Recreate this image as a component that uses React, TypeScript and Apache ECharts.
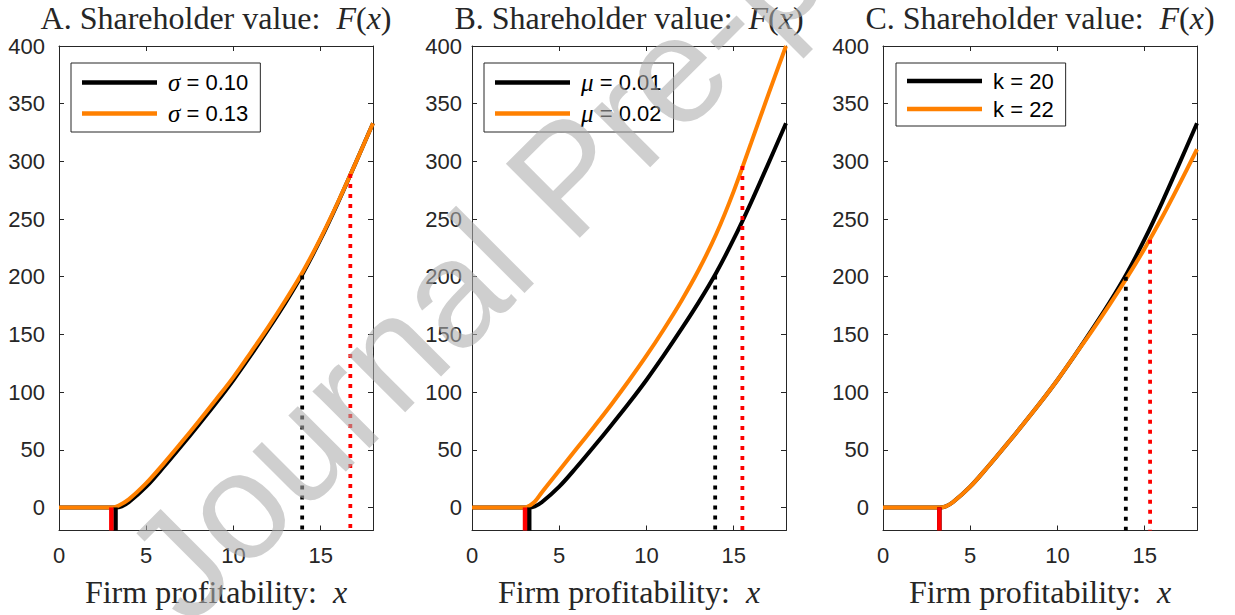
import React, { useEffect, useRef } from "react";
import * as echarts from "echarts";

// ---------- data ----------
const X_TICKS = [0, 5, 10, 15];
const Y_TICKS = [0, 50, 100, 150, 200, 250, 300, 350, 400];

const TITLES = ["A", "B", "C"];
const LEGEND_NAMES = [
  ["σ = 0.10", "σ = 0.13"],
  ["μ = 0.01", "μ = 0.02"],
  ["k = 20", "k = 22"],
];

// baseline curve (black) – same parameters in every panel
const baseX = [0, 3.24, 3.6, 4, 5, 6, 7, 8, 9, 10, 11, 12, 13, 14, 15, 16, 17, 18];
const baseF = [0, 0, 1, 4.5, 18, 35, 53, 71.5, 90.5, 110.5, 132, 154.5, 178, 203.5, 232.5, 264.5, 298.5, 333];

// panel A: sigma = 0.13
const aOrangeX = [0, 3.0, 3.4, 4, 5, 6, 7, 8, 9, 10, 11, 12, 13, 14, 15, 16, 17, 18];
const aOrangeF = [0, 0, 1.5, 7, 21, 38, 56, 74.5, 93.5, 113, 134.5, 156.5, 180, 205, 233.5, 265, 298.5, 333];

// panel B: mu = 0.02
const bOrangeX = [0, 3.04, 3.3, 3.6, 4, 5, 6, 7, 8, 9, 10, 11, 12, 13, 14, 15, 16, 17, 18];
const bOrangeF = [0, 0, 1.5, 5, 13, 32, 51, 70, 89.5, 110, 131.5, 154.5, 179, 206, 237, 274, 316, 358.5, 400];

// panel C: k = 22
const cOrangeX = [0, 3.23, 3.6, 4, 5, 6, 7, 8, 9, 10, 11, 12, 13, 14, 15, 16, 17, 18];
const cOrangeF = [0, 0, 1, 4.5, 18, 35, 53, 71.5, 90.5, 110.5, 132, 153.5, 176, 199.5, 224.5, 251.5, 280.5, 310.5];

// thresholds: [black default, red default] (solid bars from -20 to 0)
const defaultBlack = [3.24, 3.28, 3.23];
const defaultRed = [3.0, 3.04, 3.23];
// investment thresholds (dotted), x and top value
const investBlackX = [13.94, 13.94, 13.92];
const investBlackF = [201, 201, 200];
const investRedX = [16.7, 15.5, 15.31];
const investRedF = [289, 296, 232];

const Y_MIN = -20;
const Y_MAX = 400;
const X_MIN = 0;
const X_MAX = 18;

// ---------- layout ----------
const GRID_LEFT = [59, 472, 883];
const GRID_W = 314;
const GRID_TOP = 46;
const GRID_H = 484.5;
const LEGEND_LEFT = [71, 484, 896];
const YLABEL_MARGIN = [14, 10, 14];

const AX = "#262626";
const BLACK = "#000000";
const ORANGE = "#FF8000";
const RED = "#FF0000";
const SANS = "Liberation Sans";
const SERIF = "Liberation Serif";

const zip = (xs: number[], ys: number[]) => xs.map((x, i) => [x, ys[i]]);

export default function App() {
  const ref = useRef<HTMLDivElement>(null);
  useEffect(() => {
    document.body.style.margin = "0";
    if (!ref.current) return;
    const chart = echarts.init(ref.current, null, { renderer: "svg" });

    const grids: any[] = [];
    const xAxes: any[] = [];
    const yAxes: any[] = [];
    const series: any[] = [];
    const legends: any[] = [];
    const graphics: any[] = [];

    const orangeX = [aOrangeX, bOrangeX, cOrangeX];
    const orangeF = [aOrangeF, bOrangeF, cOrangeF];

    for (let p = 0; p < 3; p++) {
      grids.push({
        left: GRID_LEFT[p],
        top: GRID_TOP,
        width: GRID_W,
        height: GRID_H,
        outerBoundsMode: "none",
        containLabel: false,
      });
    }
    // bottom x axes (0..2)
    for (let p = 0; p < 3; p++) {
      xAxes.push({
        gridIndex: p,
        type: "value",
        position: "bottom",
        min: X_MIN,
        max: X_MAX,
        axisLine: { show: true, onZero: false, lineStyle: { color: AX, width: 1 } },
        axisTick: { show: true, inside: true, length: 5, customValues: X_TICKS, lineStyle: { color: AX } },
        axisLabel: {
          customValues: X_TICKS,
          fontSize: 22,
          fontFamily: SANS,
          color: AX,
          margin: 14,
        },
        splitLine: { show: false },
        name: "Firm profitability:  {i|x}",
        nameLocation: "middle",
        nameGap: 45,
        nameTextStyle: {
          fontSize: 32,
          fontFamily: SERIF,
          color: AX,
          rich: { i: { fontSize: 32, fontFamily: SERIF, fontStyle: "italic", color: AX } },
        },
      });
    }
    // top x axes (3..5)
    for (let p = 0; p < 3; p++) {
      xAxes.push({
        gridIndex: p,
        type: "value",
        position: "top",
        min: X_MIN,
        max: X_MAX,
        axisLine: { show: true, onZero: false, lineStyle: { color: AX, width: 1 } },
        axisTick: { show: true, inside: true, length: 5, customValues: X_TICKS, lineStyle: { color: AX } },
        axisLabel: { show: false, customValues: X_TICKS },
        splitLine: { show: false },
      });
    }
    // left y axes (0..2)
    for (let p = 0; p < 3; p++) {
      yAxes.push({
        gridIndex: p,
        type: "value",
        position: "left",
        min: Y_MIN,
        max: Y_MAX,
        axisLine: { show: true, onZero: false, lineStyle: { color: AX, width: 1 } },
        axisTick: { show: true, inside: true, length: 5, customValues: Y_TICKS, lineStyle: { color: AX } },
        axisLabel: {
          customValues: Y_TICKS,
          fontSize: 22,
          fontFamily: SANS,
          color: AX,
          margin: YLABEL_MARGIN[p],
        },
        splitLine: { show: false },
      });
    }
    // right y axes (3..5)
    for (let p = 0; p < 3; p++) {
      yAxes.push({
        gridIndex: p,
        type: "value",
        position: "right",
        min: Y_MIN,
        max: Y_MAX,
        axisLine: { show: true, onZero: false, lineStyle: { color: AX, width: 1 } },
        axisTick: { show: true, inside: true, length: 5, customValues: Y_TICKS, lineStyle: { color: AX } },
        axisLabel: { show: false, customValues: Y_TICKS },
        splitLine: { show: false },
      });
    }

    for (let p = 0; p < 3; p++) {
      const common = { xAxisIndex: p, yAxisIndex: p, symbol: "none", silent: true };
      // black curve
      series.push({
        ...common,
        type: "line",
        name: LEGEND_NAMES[p][0],
        data: zip(baseX, baseF),
        smooth: 0.35,
        lineStyle: { color: BLACK, width: 4 },
        itemStyle: { color: BLACK },
        z: 2,
      });
      // orange curve
      series.push({
        ...common,
        type: "line",
        name: LEGEND_NAMES[p][1],
        data: zip(orangeX[p], orangeF[p]),
        smooth: 0.35,
        lineStyle: { color: ORANGE, width: 4 },
        itemStyle: { color: ORANGE },
        z: 3,
      });
      // default threshold bars
      series.push({
        ...common,
        type: "line",
        data: [
          [defaultBlack[p], Y_MIN],
          [defaultBlack[p], 0],
        ],
        lineStyle: { color: BLACK, width: 4.5, cap: "butt" },
        z: 4,
      });
      series.push({
        ...common,
        type: "line",
        data: [
          [defaultRed[p], Y_MIN],
          [defaultRed[p], 0],
        ],
        lineStyle: { color: RED, width: 4.5, cap: "butt" },
        z: 5,
      });
      // investment thresholds (dotted)
      series.push({
        ...common,
        type: "line",
        data: [
          [investBlackX[p], investBlackF[p]],
          [investBlackX[p], Y_MIN],
        ],
        lineStyle: { color: BLACK, width: 3.8, type: [4, 6], cap: "butt" },
        z: 6,
      });
      series.push({
        ...common,
        type: "line",
        data: [
          [investRedX[p], investRedF[p]],
          [investRedX[p], Y_MIN],
        ],
        lineStyle: { color: RED, width: 3.8, type: [4, 6], cap: "butt" },
        z: 6,
      });

      legends.push({
        data: LEGEND_NAMES[p],
        left: LEGEND_LEFT[p],
        top: 63,
        orient: "vertical",
        icon: "rect",
        itemWidth: 75,
        itemHeight: 4.5,
        itemGap: 6,
        padding: [7, 12, 6, 11],
        borderColor: AX,
        borderWidth: 1,
        backgroundColor: "#ffffff",
        selectedMode: false,
        formatter: (name: string) => {
          if (name.startsWith("σ") || name.startsWith("μ")) {
            return " {i|" + name.charAt(0) + "}{t|" + name.slice(1) + "}";
          }
          return "{t| " + name + "}";
        },
        textStyle: {
          fontSize: 22,
          fontFamily: SANS,
          color: "#000",
          rich: {
            i: { fontSize: 25, fontFamily: SERIF, fontStyle: "italic", color: "#000" },
            t: { fontSize: 22, fontFamily: SANS, color: "#000" },
          },
        },
      });

      graphics.push({
        type: "text",
        x: GRID_LEFT[p] + GRID_W / 2,
        y: 18,
        silent: true,
        style: {
          text: TITLES[p] + ". Shareholder value:  {i|F}({i|x})",
          fontSize: 32,
          fontFamily: SERIF,
          fill: AX,
          align: "center",
          verticalAlign: "middle",
          rich: { i: { fontSize: 32, fontFamily: SERIF, fontStyle: "italic", fill: AX } },
        },
      });
    }

    // watermark
    graphics.push({
      type: "text",
      x: 205,
      y: 645,
      rotation: Math.PI / 4,
      silent: true,
      z: 100,
      style: {
        text: "Journal Pre-proof",
        fontSize: 152,
        fontFamily: SANS,
        fill: "rgba(173,173,173,0.58)",
        align: "left",
        verticalAlign: "bottom",
      },
    });

    chart.setOption({
      animation: false,
      backgroundColor: "#ffffff",
      grid: grids,
      xAxis: xAxes,
      yAxis: yAxes,
      legend: legends,
      series,
      graphic: graphics,
    });
    return () => chart.dispose();
  }, []);
  return <div ref={ref} style={{ width: 1235, height: 615 }} />;
}
